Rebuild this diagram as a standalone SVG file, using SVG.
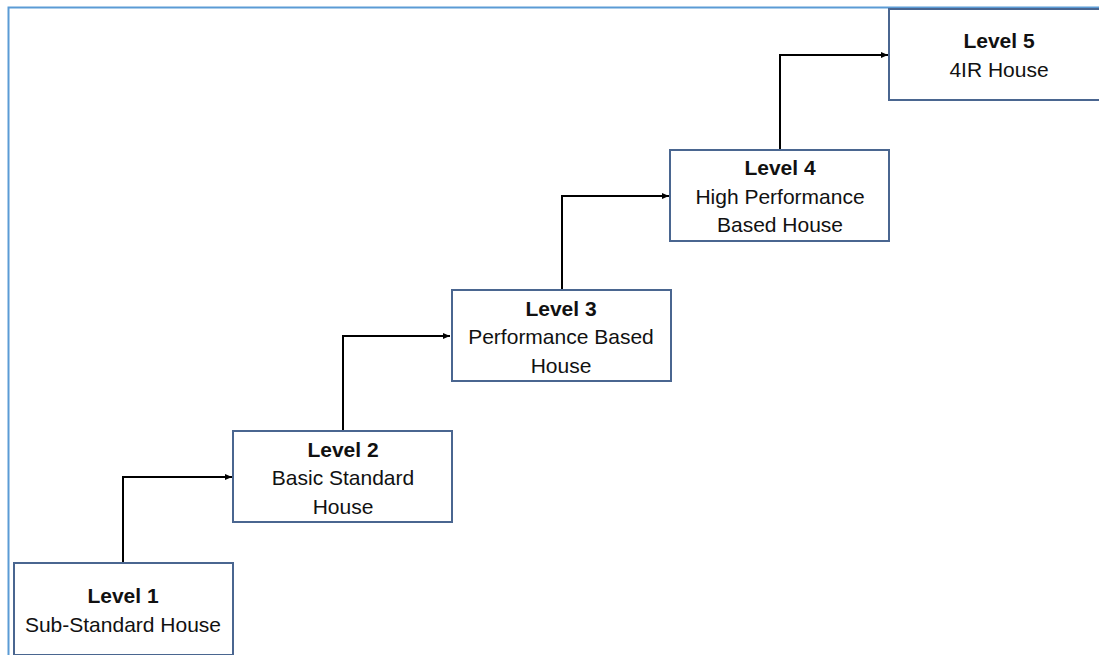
<svg xmlns="http://www.w3.org/2000/svg" width="1099" height="655" viewBox="0 0 1099 655">
<style>
.box{fill:#fff;stroke:#4a6690;stroke-width:2}
.t{font-family:"Liberation Sans",Arial,sans-serif;font-size:21px;fill:#111;text-anchor:middle}
.b{font-weight:bold}
.c{fill:none;stroke:#000;stroke-width:2;marker-end:url(#ah)}
</style>
<defs>
<marker id="ah" markerWidth="8" markerHeight="8" refX="7" refY="4" orient="auto" markerUnits="userSpaceOnUse">
<path d="M0,1 L7,4 L0,7 Z" fill="#000"/>
</marker>
</defs>
<rect x="0" y="0" width="1099" height="655" fill="#fff"/>
<path d="M8.5,655 V7.5 H1099" fill="none" stroke="#5b9bd5" stroke-width="2"/>
<g id="connectors">
<path class="c" d="M123,563 V477 H232"/>
<path class="c" d="M343,431 V336 H450"/>
<path class="c" d="M562,290 V196 H669"/>
<path class="c" d="M780,150 V55 H888"/>
</g>
<g id="level1">
<rect class="box" x="14" y="563" width="219" height="92"/>
<text class="t b" x="123" y="603">Level 1</text>
<text class="t" x="123" y="632">Sub-Standard House</text>
</g>
<g id="level2">
<rect class="box" x="233" y="431" width="219" height="91"/>
<text class="t b" x="343" y="457">Level 2</text>
<text class="t" x="343" y="485">Basic Standard</text>
<text class="t" x="343" y="514">House</text>
</g>
<g id="level3">
<rect class="box" x="452" y="290" width="219" height="91"/>
<text class="t b" x="561" y="316">Level 3</text>
<text class="t" x="561" y="344">Performance Based</text>
<text class="t" x="561" y="373">House</text>
</g>
<g id="level4">
<rect class="box" x="670" y="150" width="219" height="91"/>
<text class="t b" x="780" y="175">Level 4</text>
<text class="t" x="780" y="204">High Performance</text>
<text class="t" x="780" y="232">Based House</text>
</g>
<g id="level5">
<rect class="box" x="889" y="9" width="220" height="91"/>
<text class="t b" x="999" y="48">Level 5</text>
<text class="t" x="999" y="77">4IR House</text>
</g>
</svg>
